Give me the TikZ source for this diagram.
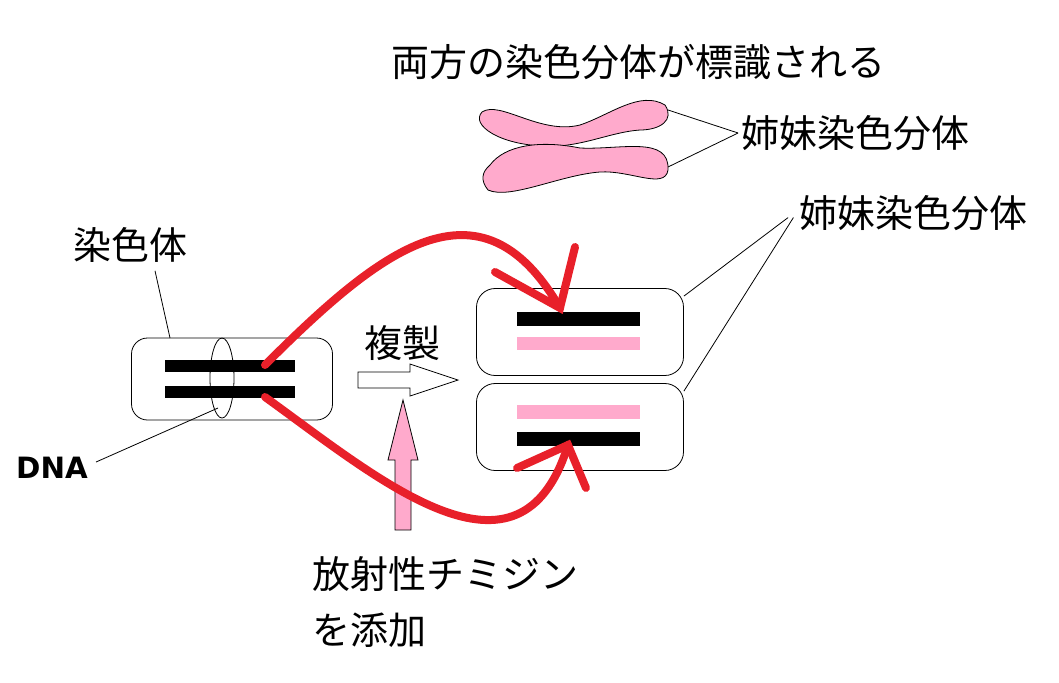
\documentclass[tikz,border=0pt]{standalone}
\usepackage{fontspec}
\newfontfamily\cjk{Noto Sans CJK JP}
\definecolor{pk}{HTML}{FFAACC}
\definecolor{rd}{HTML}{E8202A}
\begin{document}
\begin{tikzpicture}[x=0.75pt,y=-0.75pt,
  lbl/.style={font=\cjk\fontsize{28.5}{34}\selectfont,inner sep=0pt},
  thin/.style={draw=black,line width=0.6pt},
  redc/.style={draw=rd,line width=6pt,line cap=round}]
\useasboundingbox (0,0) rectangle (1059,682);
\node[lbl] (title) at (638,62) {両方の染色分体が標識される};
% X chromosome
\path[fill=pk,draw=black,line width=0.6pt] (482,112) .. controls (500,100) and (540,135) .. (580,125)
 .. controls (610,115) and (640,90) .. (665,105) .. controls (675,120) and (660,130) .. (640,130)
 .. controls (610,132) and (580,148) .. (545,146) .. controls (500,145) and (470,125) .. (482,112) -- cycle;
\path[fill=pk,draw=black,line width=0.6pt] (490,165) .. controls (505,145) and (540,140) .. (580,148)
 .. controls (620,150) and (670,135) .. (668,170) .. controls (665,190) and (630,170) .. (600,172)
 .. controls (560,175) and (510,200) .. (488,190) .. controls (480,180) and (482,172) .. (490,165) -- cycle;
\node[lbl] (s1) at (855,133) {姉妹染色分体};
\coordinate (x1) at (668,110); \coordinate (x2) at (668,167);
\draw[thin] (x1) -- ([xshift=-2]s1.west); \draw[thin] (x2) -- ([xshift=-2]s1.west);
% left
\node[lbl] (chr) at (130,245) {染色体};
\node[draw,thin,rounded corners=12pt,minimum width=201*0.75pt,minimum height=82*0.75pt] (L) at (232,379) {};
\fill (165,360) rectangle (295,372);
\fill (165,386) rectangle (295,398);
\draw[thin] (222,378) ellipse [x radius=12, y radius=40];
\draw[thin] (chr.south) ++(25,8) -- (170,338);
\node[font=\fontspec{DejaVu Sans}\fontsize{22}{26}\selectfont\bfseries,inner sep=0pt] (dna) at (52,468) {DNA};
\draw[thin] (dna.east) ++(8,-6) -- (218,408);
% replication arrow
\node[lbl] (rep) at (402,343) {複製};
\draw[thin,fill=white] (358,372) -- (410,372) -- (410,364) -- (458,380) -- (410,396) -- (410,388) -- (358,388) -- cycle;
% pink up arrow
\draw[thin,fill=pk] (395,530) -- (411,530) -- (411,460) -- (418,460) -- (403,400) -- (388,460) -- (395,460) -- cycle;
\node[lbl,anchor=west] (thy) at (312,574) {放射性チミジン};
\node[lbl,anchor=west] (add) at (312,630) {を添加};
% right boxes
\node[draw,thin,rounded corners=14pt,minimum width=207*0.75pt,minimum height=87*0.75pt] (R1) at (580,332) {};
\node[draw,thin,rounded corners=14pt,minimum width=207*0.75pt,minimum height=87*0.75pt] (R2) at (580,427) {};
\fill (517,312) rectangle (640,326);
\fill[pk] (517,337) rectangle (640,350);
\fill[pk] (517,405) rectangle (640,419);
\fill (517,432) rectangle (640,446);
\node[lbl] (s2) at (913,213) {姉妹染色分体};
\draw[thin] (R1.north east) ++(0,8) -- ([xshift=-8,yshift=10]s2.south west);
\draw[thin] (R2.north east) ++(0,8) -- ([xshift=-4,yshift=10]s2.south west);
% red arrows
\coordinate (a1) at (265,365); \coordinate (t1) at (560,308);
\coordinate (a2) at (265,397); \coordinate (t2) at (568,445);
\draw[redc] (a1) .. controls (380,250) and (480,170) .. (t1);
\draw[redc] (495,272) -- (t1) -- (575,247);
\draw[redc] (a2) .. controls (380,480) and (520,600) .. (t2);
\draw[redc] (517,468) -- (t2) -- (586,488);
\end{tikzpicture}
\end{document}
